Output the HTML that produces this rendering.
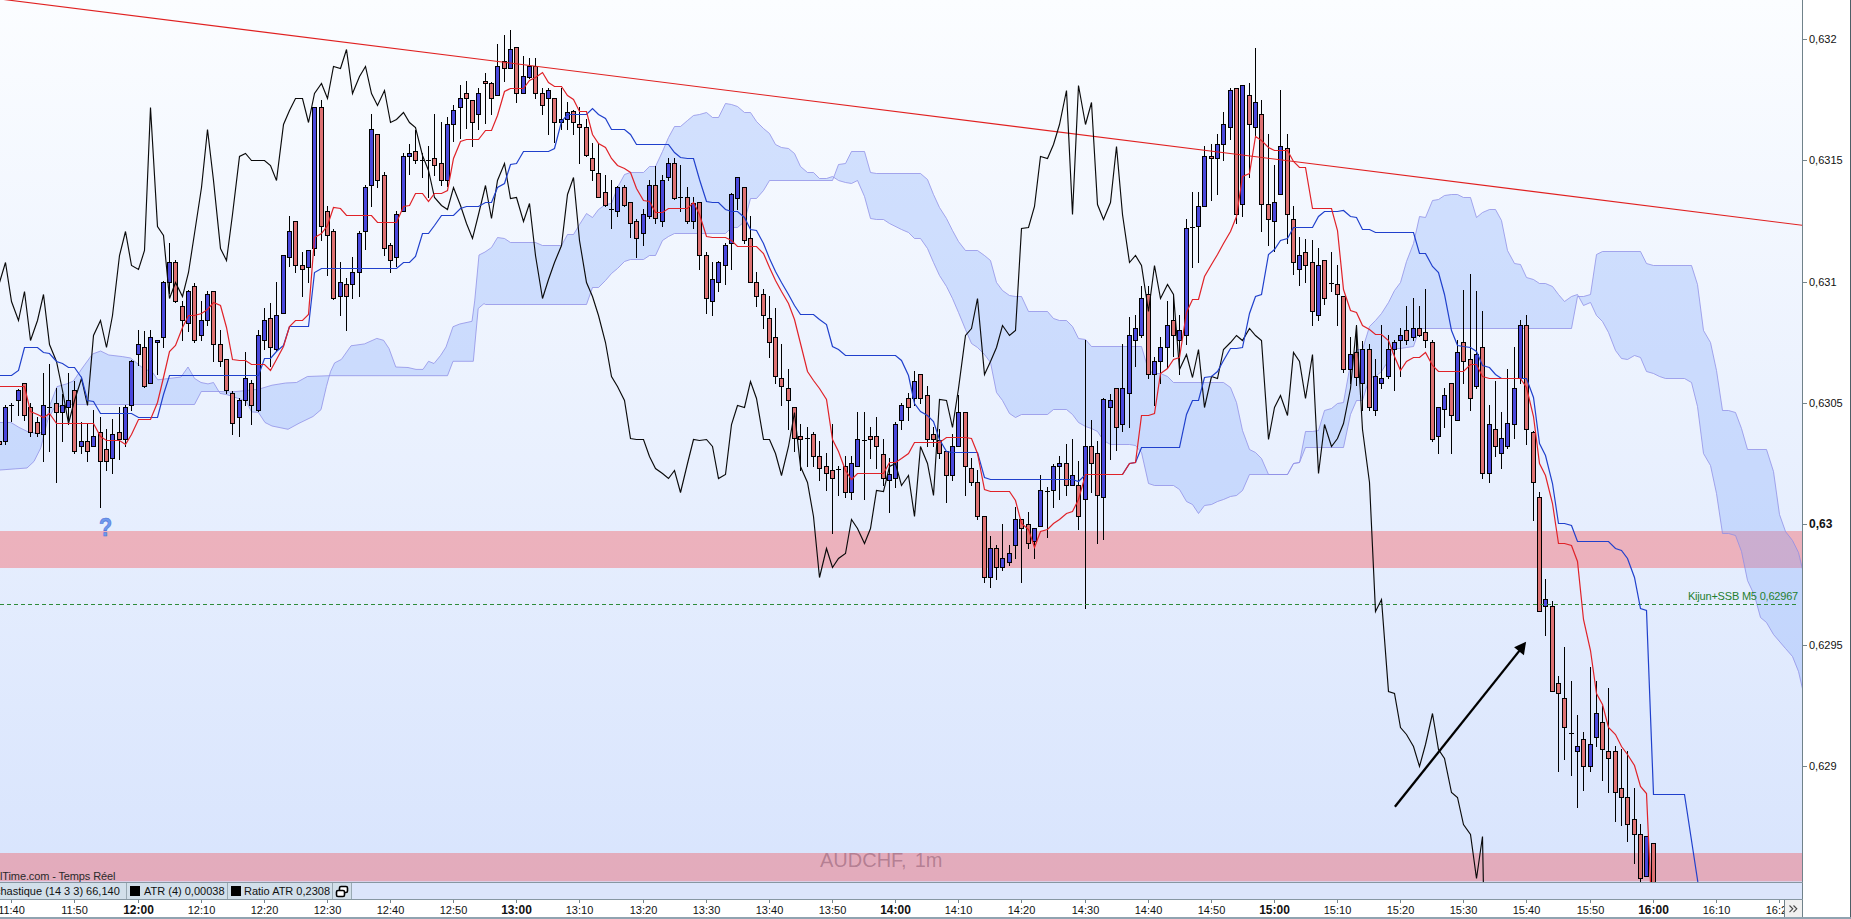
<!DOCTYPE html>
<html><head><meta charset="utf-8"><title>AUDCHF 1m</title>
<style>
html,body{margin:0;padding:0;background:#fff;}
body{width:1851px;height:919px;overflow:hidden;position:relative;font-family:"Liberation Sans",sans-serif;color:#111;}
#chart{position:absolute;left:0;top:0;width:1802px;height:883px;overflow:hidden;background:linear-gradient(to bottom,#fbfdff 0px,#d8e4fd 883px);}
#chart svg{position:absolute;left:0;top:0;}
#vax{position:absolute;left:1802px;top:0;width:1px;height:917px;background:#70828a;}
#rp{position:absolute;left:1803px;top:0;width:48px;height:919px;background:#fff;}
#redge{position:absolute;left:1850px;top:0;width:1px;height:919px;background:#4d5e66;}
.pt{position:absolute;left:1803px;width:4px;height:1px;background:#74858c;}
.pl{position:absolute;left:1809px;font-size:11px;line-height:14px;height:14px;white-space:nowrap;color:#111;}
.pl.b{font-weight:bold;font-size:12px;}
#hl1{position:absolute;left:0;top:882px;width:1803px;height:1px;background:#8797a2;}
#sb{position:absolute;left:0;top:883px;width:1802px;height:16px;background:#dce5fb;}
#hl2{position:absolute;left:0;top:899px;width:1803px;height:1px;background:#8797a2;}
.box{position:absolute;top:0;height:16px;background:#d2dfea;border-right:1px solid #9aaab4;font-size:11px;line-height:16px;white-space:nowrap;overflow:hidden;box-sizing:border-box;}
.sq{position:absolute;top:3px;width:10px;height:10px;background:#000;}
#ta{position:absolute;left:0;top:900px;width:1802px;height:17px;background:#fff;overflow:hidden;}
.tk{position:absolute;top:0;width:1px;height:3px;background:#74858c;}
.tl{position:absolute;top:3px;width:40px;text-align:center;font-size:11px;line-height:14px;white-space:nowrap;}
.tl.b{font-weight:bold;font-size:12px;top:3px;}
#bb{position:absolute;left:0;top:917px;width:1851px;height:2px;background:#90a3b0;}
#more{position:absolute;left:1784px;top:900px;width:18px;height:17px;background:#f0f0f0;border-left:1px solid #70828a;font-size:13px;line-height:15px;text-align:center;color:#444;box-sizing:border-box;}
#brand{position:absolute;left:0;top:870px;letter-spacing:-0.12px;font-size:11px;line-height:13px;color:#2a2a2a;white-space:nowrap;}
#wm{position:absolute;left:820px;top:848.5px;word-spacing:2.5px;font-size:20px;line-height:22px;color:rgba(64,15,45,0.3);white-space:nowrap;}
#q{position:absolute;left:99.2px;top:514px;font-size:25px;line-height:27px;font-weight:bold;color:#6f9aec;-webkit-text-stroke:0.6px #4a6ed8;transform:scaleX(0.86);transform-origin:0 0;}
#kl{position:absolute;left:1600px;width:1197px;top:590px;font-size:11px;line-height:12px;color:#1f7f2f;white-space:nowrap;}
</style></head><body>
<div id="chart">
<svg width="1803" height="883" viewBox="0 0 1803 883">
<rect x="0" y="531" width="1803" height="37" fill="rgb(252,40,41)" fill-opacity="0.3"/>
<rect x="0" y="853" width="1803" height="28" fill="rgb(252,40,41)" fill-opacity="0.3"/><rect x="0" y="881" width="1803" height="1" fill="rgb(252,40,41)" fill-opacity="0.1"/>
<polygon points="0.0,422.5 11.0,422.5 19.0,427.4 28.5,432.0 38.0,433.6 43.5,431.5 50.3,404.0 57.0,386.6 66.6,383.9 73.4,381.0 81.6,369.0 92.5,354.0 100.6,351.0 108.8,355.0 122.4,356.6 130.6,358.0 144.0,369.0 152.0,371.6 157.8,379.8 181.0,377.0 188.0,367.0 194.5,378.4 201.0,382.5 208.0,383.9 213.5,382.5 220.0,393.4 227.0,394.7 246.0,401.0 251.6,411.9 258.4,412.4 265.0,422.5 272.0,426.0 288.0,429.3 299.0,423.3 313.0,416.5 321.0,409.7 326.4,386.6 330.5,371.6 334.6,362.9 341.4,359.4 351.0,345.8 364.5,343.9 376.8,338.4 383.6,340.3 389.0,348.5 395.8,367.0 408.0,367.5 416.0,369.4 423.0,369.4 428.5,361.3 434.0,363.5 440.7,355.3 446.0,347.0 453.0,326.7 459.7,324.0 472.0,321.3 474.7,300.9 479.0,255.0 485.0,252.0 491.5,247.5 497.5,237.5 504.5,238.5 510.5,242.5 535.5,242.5 542.5,245.5 561.5,245.5 567.5,234.5 573.5,234.5 579.5,224.5 586.5,213.5 592.5,217.5 598.5,209.5 605.5,204.5 611.5,203.5 617.5,187.5 624.5,174.5 630.5,172.5 643.5,172.5 649.5,166.5 655.5,166.5 662.5,151.5 668.5,137.5 674.5,126.5 680.5,126.5 687.5,120.5 693.5,115.5 699.5,114.5 706.5,112.5 712.5,117.5 718.5,117.5 725.5,103.5 731.5,104.5 737.5,106.5 744.5,112.5 750.5,112.5 756.5,121.5 763.5,128.5 769.5,133.5 775.5,144.5 781.5,147.5 788.5,148.5 794.5,153.5 800.5,166.5 807.5,172.5 813.5,172.5 819.5,178.5 826.5,178.5 832.5,176.5 838.5,180.5 845.5,182.5 851.5,183.5 857.5,180.5 864.5,196.5 870.5,218.5 876.5,219.5 883.5,219.5 889.5,223.5 901.5,229.5 908.5,232.5 914.5,238.5 920.5,238.5 927.5,248.5 933.5,262.5 939.5,275.5 946.5,286.5 952.5,298.5 958.5,312.5 965.5,329.5 971.5,343.5 977.5,347.5 984.5,354.5 990.5,362.5 996.5,392.5 1002.5,400.5 1009.5,413.5 1015.5,417.5 1021.5,414.5 1047.5,414.5 1053.5,409.5 1066.5,409.5 1072.5,414.5 1078.5,422.5 1085.5,426.5 1091.5,428.5 1097.5,431.5 1103.5,440.5 1110.5,444.5 1129.5,444.5 1135.5,445.5 1141.5,452.5 1148.5,483.5 1154.5,485.5 1173.5,485.5 1179.5,489.5 1186.5,501.5 1192.5,504.5 1198.5,513.5 1204.5,505.5 1211.5,504.5 1217.5,501.5 1223.5,499.5 1230.5,496.5 1236.5,495.5 1242.5,490.5 1249.5,474.5 1287.5,474.5 1293.5,463.5 1299.5,462.5 1305.5,431.5 1312.5,431.5 1318.5,430.5 1324.5,410.5 1331.5,408.5 1337.5,403.5 1343.5,402.5 1350.5,363.5 1356.5,349.5 1362.5,349.5 1369.5,326.5 1375.5,320.5 1381.5,313.5 1388.5,302.5 1394.5,290.5 1400.5,282.5 1406.5,261.5 1413.5,243.5 1419.5,216.5 1425.5,217.5 1432.5,200.5 1438.5,199.5 1444.5,195.5 1451.5,194.5 1457.5,194.5 1463.5,197.5 1470.5,197.5 1476.5,217.5 1482.5,212.5 1489.5,209.5 1495.5,209.5 1501.5,220.5 1507.5,250.5 1514.5,263.5 1520.5,264.5 1526.5,277.5 1533.5,279.5 1539.5,283.5 1545.5,283.5 1552.5,286.5 1558.5,294.5 1564.5,301.5 1571.5,296.5 1577.5,294.5 1583.5,305.5 1590.5,302.5 1596.5,315.5 1602.5,321.5 1608.5,332.5 1615.5,350.5 1621.5,358.5 1627.5,359.5 1634.5,355.5 1640.5,357.5 1646.5,371.5 1653.5,373.5 1659.5,376.5 1665.5,378.5 1684.5,378.5 1691.5,382.5 1697.5,406.5 1703.5,453.5 1710.5,465.5 1716.5,493.5 1722.5,533.5 1728.5,533.5 1735.5,535.5 1741.5,551.5 1747.5,580.5 1754.5,595.5 1760.5,617.5 1766.5,622.5 1773.5,634.5 1785.5,648.5 1792.5,656.5 1798.5,671.5 1804.5,697.5 1811.5,702.5 1817.5,856.5 1817.5,731.5 1811.5,579.5 1804.5,577.5 1798.5,552.5 1792.5,540.5 1785.5,531.5 1779.5,514.5 1773.5,471.5 1766.5,449.5 1747.5,449.5 1741.5,428.5 1735.5,412.5 1728.5,410.5 1722.5,410.5 1716.5,370.5 1710.5,342.5 1703.5,330.5 1697.5,284.5 1691.5,265.5 1653.5,265.5 1646.5,263.5 1640.5,251.5 1602.5,251.5 1596.5,254.5 1590.5,294.5 1583.5,296.5 1577.5,296.5 1571.5,328.5 1419.5,328.5 1413.5,346.5 1406.5,347.5 1400.5,348.5 1394.5,348.5 1388.5,360.5 1381.5,371.5 1375.5,376.5 1369.5,377.5 1362.5,400.5 1356.5,400.5 1350.5,414.5 1343.5,447.5 1305.5,447.5 1299.5,462.5 1293.5,463.5 1287.5,474.5 1268.5,474.5 1261.5,458.5 1255.5,452.5 1249.5,449.5 1242.5,430.5 1236.5,402.5 1230.5,387.5 1223.5,382.5 1173.5,382.5 1167.5,376.5 1160.5,373.5 1154.5,373.5 1148.5,370.5 1141.5,346.5 1091.5,346.5 1085.5,339.5 1078.5,338.5 1072.5,326.5 1066.5,320.5 1059.5,320.5 1053.5,318.5 1047.5,311.5 1028.5,311.5 1021.5,296.5 1015.5,296.5 1009.5,295.5 1002.5,290.5 996.5,282.5 990.5,260.5 984.5,255.5 977.5,250.5 965.5,250.5 958.5,241.5 952.5,230.5 946.5,218.5 939.5,207.5 933.5,194.5 927.5,179.5 920.5,173.5 876.5,173.5 870.5,172.5 864.5,151.5 851.5,151.5 845.5,163.5 838.5,164.5 832.5,180.5 769.5,180.5 763.5,190.5 756.5,198.5 750.5,198.5 744.5,221.5 737.5,227.5 731.5,227.5 725.5,233.5 674.5,233.5 668.5,236.5 662.5,240.5 655.5,255.5 649.5,255.5 643.5,259.5 630.5,259.5 624.5,261.5 617.5,268.5 611.5,273.5 605.5,280.5 598.5,287.5 592.5,287.5 586.5,304.5 485.5,304.5 484.0,303.6 478.2,308.5 473.3,361.3 453.0,361.3 447.5,375.7 329.0,375.7 307.4,376.5 296.5,382.5 285.6,383.0 272.0,385.2 258.4,389.3 231.0,392.0 220.0,391.5 201.3,391.5 194.5,404.5 68.0,404.5 54.4,407.5 47.6,420.6 40.8,447.8 34.0,461.4 27.0,468.0 0.0,470.0" fill="rgb(125,164,253)" fill-opacity="0.3" stroke="none"/>
<polyline points="0.0,422.5 11.0,422.5 19.0,427.4 28.5,432.0 38.0,433.6 43.5,431.5 50.3,404.0 57.0,386.6 66.6,383.9 73.4,381.0 81.6,369.0 92.5,354.0 100.6,351.0 108.8,355.0 122.4,356.6 130.6,358.0 144.0,369.0 152.0,371.6 157.8,379.8 181.0,377.0 188.0,367.0 194.5,378.4 201.0,382.5 208.0,383.9 213.5,382.5 220.0,393.4 227.0,394.7 246.0,401.0 251.6,411.9 258.4,412.4 265.0,422.5 272.0,426.0 288.0,429.3 299.0,423.3 313.0,416.5 321.0,409.7 326.4,386.6 330.5,371.6 334.6,362.9 341.4,359.4 351.0,345.8 364.5,343.9 376.8,338.4 383.6,340.3 389.0,348.5 395.8,367.0 408.0,367.5 416.0,369.4 423.0,369.4 428.5,361.3 434.0,363.5 440.7,355.3 446.0,347.0 453.0,326.7 459.7,324.0 472.0,321.3 474.7,300.9 479.0,255.0 485.0,252.0 491.5,247.5 497.5,237.5 504.5,238.5 510.5,242.5 535.5,242.5 542.5,245.5 561.5,245.5 567.5,234.5 573.5,234.5 579.5,224.5 586.5,213.5 592.5,217.5 598.5,209.5 605.5,204.5 611.5,203.5 617.5,187.5 624.5,174.5 630.5,172.5 643.5,172.5 649.5,166.5 655.5,166.5 662.5,151.5 668.5,137.5 674.5,126.5 680.5,126.5 687.5,120.5 693.5,115.5 699.5,114.5 706.5,112.5 712.5,117.5 718.5,117.5 725.5,103.5 731.5,104.5 737.5,106.5 744.5,112.5 750.5,112.5 756.5,121.5 763.5,128.5 769.5,133.5 775.5,144.5 781.5,147.5 788.5,148.5 794.5,153.5 800.5,166.5 807.5,172.5 813.5,172.5 819.5,178.5 826.5,178.5 832.5,176.5 838.5,180.5 845.5,182.5 851.5,183.5 857.5,180.5 864.5,196.5 870.5,218.5 876.5,219.5 883.5,219.5 889.5,223.5 901.5,229.5 908.5,232.5 914.5,238.5 920.5,238.5 927.5,248.5 933.5,262.5 939.5,275.5 946.5,286.5 952.5,298.5 958.5,312.5 965.5,329.5 971.5,343.5 977.5,347.5 984.5,354.5 990.5,362.5 996.5,392.5 1002.5,400.5 1009.5,413.5 1015.5,417.5 1021.5,414.5 1047.5,414.5 1053.5,409.5 1066.5,409.5 1072.5,414.5 1078.5,422.5 1085.5,426.5 1091.5,428.5 1097.5,431.5 1103.5,440.5 1110.5,444.5 1129.5,444.5 1135.5,445.5 1141.5,452.5 1148.5,483.5 1154.5,485.5 1173.5,485.5 1179.5,489.5 1186.5,501.5 1192.5,504.5 1198.5,513.5 1204.5,505.5 1211.5,504.5 1217.5,501.5 1223.5,499.5 1230.5,496.5 1236.5,495.5 1242.5,490.5 1249.5,474.5 1287.5,474.5 1293.5,463.5 1299.5,462.5 1305.5,431.5 1312.5,431.5 1318.5,430.5 1324.5,410.5 1331.5,408.5 1337.5,403.5 1343.5,402.5 1350.5,363.5 1356.5,349.5 1362.5,349.5 1369.5,326.5 1375.5,320.5 1381.5,313.5 1388.5,302.5 1394.5,290.5 1400.5,282.5 1406.5,261.5 1413.5,243.5 1419.5,216.5 1425.5,217.5 1432.5,200.5 1438.5,199.5 1444.5,195.5 1451.5,194.5 1457.5,194.5 1463.5,197.5 1470.5,197.5 1476.5,217.5 1482.5,212.5 1489.5,209.5 1495.5,209.5 1501.5,220.5 1507.5,250.5 1514.5,263.5 1520.5,264.5 1526.5,277.5 1533.5,279.5 1539.5,283.5 1545.5,283.5 1552.5,286.5 1558.5,294.5 1564.5,301.5 1571.5,296.5 1577.5,294.5 1583.5,305.5 1590.5,302.5 1596.5,315.5 1602.5,321.5 1608.5,332.5 1615.5,350.5 1621.5,358.5 1627.5,359.5 1634.5,355.5 1640.5,357.5 1646.5,371.5 1653.5,373.5 1659.5,376.5 1665.5,378.5 1684.5,378.5 1691.5,382.5 1697.5,406.5 1703.5,453.5 1710.5,465.5 1716.5,493.5 1722.5,533.5 1728.5,533.5 1735.5,535.5 1741.5,551.5 1747.5,580.5 1754.5,595.5 1760.5,617.5 1766.5,622.5 1773.5,634.5 1785.5,648.5 1792.5,656.5 1798.5,671.5 1804.5,697.5 1811.5,702.5 1817.5,856.5" fill="none" stroke="#8c8ce6" stroke-opacity="0.75" stroke-width="1"/>
<polyline points="0.0,470.0 27.0,468.0 34.0,461.4 40.8,447.8 47.6,420.6 54.4,407.5 68.0,404.5 194.5,404.5 201.3,391.5 220.0,391.5 231.0,392.0 258.4,389.3 272.0,385.2 285.6,383.0 296.5,382.5 307.4,376.5 329.0,375.7 447.5,375.7 453.0,361.3 473.3,361.3 478.2,308.5 484.0,303.6 485.5,304.5 586.5,304.5 592.5,287.5 598.5,287.5 605.5,280.5 611.5,273.5 617.5,268.5 624.5,261.5 630.5,259.5 643.5,259.5 649.5,255.5 655.5,255.5 662.5,240.5 668.5,236.5 674.5,233.5 725.5,233.5 731.5,227.5 737.5,227.5 744.5,221.5 750.5,198.5 756.5,198.5 763.5,190.5 769.5,180.5 832.5,180.5 838.5,164.5 845.5,163.5 851.5,151.5 864.5,151.5 870.5,172.5 876.5,173.5 920.5,173.5 927.5,179.5 933.5,194.5 939.5,207.5 946.5,218.5 952.5,230.5 958.5,241.5 965.5,250.5 977.5,250.5 984.5,255.5 990.5,260.5 996.5,282.5 1002.5,290.5 1009.5,295.5 1015.5,296.5 1021.5,296.5 1028.5,311.5 1047.5,311.5 1053.5,318.5 1059.5,320.5 1066.5,320.5 1072.5,326.5 1078.5,338.5 1085.5,339.5 1091.5,346.5 1141.5,346.5 1148.5,370.5 1154.5,373.5 1160.5,373.5 1167.5,376.5 1173.5,382.5 1223.5,382.5 1230.5,387.5 1236.5,402.5 1242.5,430.5 1249.5,449.5 1255.5,452.5 1261.5,458.5 1268.5,474.5 1287.5,474.5 1293.5,463.5 1299.5,462.5 1305.5,447.5 1343.5,447.5 1350.5,414.5 1356.5,400.5 1362.5,400.5 1369.5,377.5 1375.5,376.5 1381.5,371.5 1388.5,360.5 1394.5,348.5 1400.5,348.5 1406.5,347.5 1413.5,346.5 1419.5,328.5 1571.5,328.5 1577.5,296.5 1583.5,296.5 1590.5,294.5 1596.5,254.5 1602.5,251.5 1640.5,251.5 1646.5,263.5 1653.5,265.5 1691.5,265.5 1697.5,284.5 1703.5,330.5 1710.5,342.5 1716.5,370.5 1722.5,410.5 1728.5,410.5 1735.5,412.5 1741.5,428.5 1747.5,449.5 1766.5,449.5 1773.5,471.5 1779.5,514.5 1785.5,531.5 1792.5,540.5 1798.5,552.5 1804.5,577.5 1811.5,579.5 1817.5,731.5" fill="none" stroke="#8c8ce6" stroke-opacity="0.75" stroke-width="1"/>
<g shape-rendering="crispEdges">
<rect x="-1" y="438" width="1" height="9" fill="#000"/>
<rect x="-3" y="441" width="5" height="4" fill="#000"/>
<rect x="-2" y="442" width="3" height="2" fill="#dd7172"/>
<rect x="5" y="405" width="1" height="40" fill="#000"/>
<rect x="3" y="407" width="5" height="35" fill="#000"/>
<rect x="4" y="408" width="3" height="33" fill="#4a48dc"/>
<rect x="11" y="403" width="1" height="19" fill="#000"/>
<rect x="9" y="405" width="5" height="1" fill="#000"/>
<rect x="18" y="389" width="1" height="27" fill="#000"/>
<rect x="16" y="390" width="5" height="11" fill="#000"/>
<rect x="17" y="391" width="3" height="9" fill="#4a48dc"/>
<rect x="24" y="383" width="1" height="38" fill="#000"/>
<rect x="22" y="383" width="5" height="33" fill="#000"/>
<rect x="23" y="384" width="3" height="31" fill="#dd7172"/>
<rect x="30" y="403" width="1" height="34" fill="#000"/>
<rect x="28" y="407" width="5" height="26" fill="#000"/>
<rect x="29" y="408" width="3" height="24" fill="#dd7172"/>
<rect x="37" y="417" width="1" height="20" fill="#000"/>
<rect x="35" y="422" width="5" height="12" fill="#000"/>
<rect x="36" y="423" width="3" height="10" fill="#dd7172"/>
<rect x="43" y="373" width="1" height="89" fill="#000"/>
<rect x="41" y="405" width="5" height="30" fill="#000"/>
<rect x="42" y="406" width="3" height="28" fill="#4a48dc"/>
<rect x="49" y="364" width="1" height="88" fill="#000"/>
<rect x="47" y="407" width="5" height="1" fill="#000"/>
<rect x="56" y="388" width="1" height="95" fill="#000"/>
<rect x="54" y="403" width="5" height="10" fill="#000"/>
<rect x="55" y="404" width="3" height="8" fill="#dd7172"/>
<rect x="62" y="394" width="1" height="48" fill="#000"/>
<rect x="60" y="405" width="5" height="8" fill="#000"/>
<rect x="61" y="406" width="3" height="6" fill="#4a48dc"/>
<rect x="68" y="373" width="1" height="52" fill="#000"/>
<rect x="66" y="400" width="5" height="8" fill="#000"/>
<rect x="67" y="401" width="3" height="6" fill="#4a48dc"/>
<rect x="74" y="381" width="1" height="73" fill="#000"/>
<rect x="72" y="390" width="5" height="62" fill="#000"/>
<rect x="73" y="391" width="3" height="60" fill="#dd7172"/>
<rect x="81" y="422" width="1" height="32" fill="#000"/>
<rect x="79" y="441" width="5" height="6" fill="#000"/>
<rect x="80" y="442" width="3" height="4" fill="#4a48dc"/>
<rect x="87" y="423" width="1" height="39" fill="#000"/>
<rect x="85" y="441" width="5" height="11" fill="#000"/>
<rect x="86" y="442" width="3" height="9" fill="#dd7172"/>
<rect x="93" y="410" width="1" height="37" fill="#000"/>
<rect x="91" y="436" width="5" height="11" fill="#000"/>
<rect x="92" y="437" width="3" height="9" fill="#4a48dc"/>
<rect x="100" y="417" width="1" height="91" fill="#000"/>
<rect x="98" y="432" width="5" height="30" fill="#000"/>
<rect x="99" y="433" width="3" height="28" fill="#dd7172"/>
<rect x="106" y="429" width="1" height="42" fill="#000"/>
<rect x="104" y="449" width="5" height="13" fill="#000"/>
<rect x="105" y="450" width="3" height="11" fill="#dd7172"/>
<rect x="112" y="419" width="1" height="55" fill="#000"/>
<rect x="110" y="434" width="5" height="25" fill="#000"/>
<rect x="111" y="435" width="3" height="23" fill="#4a48dc"/>
<rect x="119" y="407" width="1" height="53" fill="#000"/>
<rect x="117" y="432" width="5" height="8" fill="#000"/>
<rect x="118" y="433" width="3" height="6" fill="#dd7172"/>
<rect x="125" y="405" width="1" height="42" fill="#000"/>
<rect x="123" y="407" width="5" height="33" fill="#000"/>
<rect x="124" y="408" width="3" height="31" fill="#4a48dc"/>
<rect x="131" y="360" width="1" height="51" fill="#000"/>
<rect x="129" y="361" width="5" height="45" fill="#000"/>
<rect x="130" y="362" width="3" height="43" fill="#4a48dc"/>
<rect x="138" y="330" width="1" height="36" fill="#000"/>
<rect x="136" y="344" width="5" height="11" fill="#000"/>
<rect x="137" y="345" width="3" height="9" fill="#4a48dc"/>
<rect x="144" y="331" width="1" height="57" fill="#000"/>
<rect x="142" y="347" width="5" height="40" fill="#000"/>
<rect x="143" y="348" width="3" height="38" fill="#dd7172"/>
<rect x="150" y="330" width="1" height="54" fill="#000"/>
<rect x="148" y="337" width="5" height="47" fill="#000"/>
<rect x="149" y="338" width="3" height="45" fill="#4a48dc"/>
<rect x="157" y="340" width="1" height="35" fill="#000"/>
<rect x="155" y="340" width="5" height="3" fill="#000"/>
<rect x="156" y="341" width="3" height="1" fill="#4a48dc"/>
<rect x="163" y="281" width="1" height="67" fill="#000"/>
<rect x="161" y="282" width="5" height="56" fill="#000"/>
<rect x="162" y="283" width="3" height="54" fill="#4a48dc"/>
<rect x="169" y="243" width="1" height="51" fill="#000"/>
<rect x="167" y="262" width="5" height="21" fill="#000"/>
<rect x="168" y="263" width="3" height="19" fill="#4a48dc"/>
<rect x="175" y="260" width="1" height="43" fill="#000"/>
<rect x="173" y="262" width="5" height="40" fill="#000"/>
<rect x="174" y="263" width="3" height="38" fill="#dd7172"/>
<rect x="182" y="301" width="1" height="40" fill="#000"/>
<rect x="180" y="306" width="5" height="15" fill="#000"/>
<rect x="181" y="307" width="3" height="13" fill="#dd7172"/>
<rect x="188" y="290" width="1" height="42" fill="#000"/>
<rect x="186" y="291" width="5" height="33" fill="#000"/>
<rect x="187" y="292" width="3" height="31" fill="#4a48dc"/>
<rect x="194" y="283" width="1" height="60" fill="#000"/>
<rect x="192" y="286" width="5" height="55" fill="#000"/>
<rect x="193" y="287" width="3" height="53" fill="#dd7172"/>
<rect x="201" y="301" width="1" height="40" fill="#000"/>
<rect x="199" y="320" width="5" height="16" fill="#000"/>
<rect x="200" y="321" width="3" height="14" fill="#4a48dc"/>
<rect x="207" y="291" width="1" height="35" fill="#000"/>
<rect x="205" y="294" width="5" height="27" fill="#000"/>
<rect x="206" y="295" width="3" height="25" fill="#4a48dc"/>
<rect x="213" y="291" width="1" height="71" fill="#000"/>
<rect x="211" y="291" width="5" height="54" fill="#000"/>
<rect x="212" y="292" width="3" height="52" fill="#dd7172"/>
<rect x="220" y="330" width="1" height="37" fill="#000"/>
<rect x="218" y="344" width="5" height="18" fill="#000"/>
<rect x="219" y="345" width="3" height="16" fill="#dd7172"/>
<rect x="226" y="359" width="1" height="35" fill="#000"/>
<rect x="224" y="359" width="5" height="32" fill="#000"/>
<rect x="225" y="360" width="3" height="30" fill="#dd7172"/>
<rect x="232" y="391" width="1" height="44" fill="#000"/>
<rect x="230" y="393" width="5" height="31" fill="#000"/>
<rect x="231" y="394" width="3" height="29" fill="#dd7172"/>
<rect x="239" y="398" width="1" height="39" fill="#000"/>
<rect x="237" y="400" width="5" height="18" fill="#000"/>
<rect x="238" y="401" width="3" height="16" fill="#4a48dc"/>
<rect x="245" y="352" width="1" height="54" fill="#000"/>
<rect x="243" y="378" width="5" height="23" fill="#000"/>
<rect x="244" y="379" width="3" height="21" fill="#4a48dc"/>
<rect x="251" y="380" width="1" height="45" fill="#000"/>
<rect x="249" y="383" width="5" height="23" fill="#000"/>
<rect x="250" y="384" width="3" height="21" fill="#dd7172"/>
<rect x="258" y="330" width="1" height="82" fill="#000"/>
<rect x="256" y="335" width="5" height="76" fill="#000"/>
<rect x="257" y="336" width="3" height="74" fill="#4a48dc"/>
<rect x="264" y="308" width="1" height="42" fill="#000"/>
<rect x="262" y="320" width="5" height="21" fill="#000"/>
<rect x="263" y="321" width="3" height="19" fill="#4a48dc"/>
<rect x="270" y="303" width="1" height="64" fill="#000"/>
<rect x="268" y="318" width="5" height="30" fill="#000"/>
<rect x="269" y="319" width="3" height="28" fill="#dd7172"/>
<rect x="276" y="282" width="1" height="69" fill="#000"/>
<rect x="274" y="315" width="5" height="35" fill="#000"/>
<rect x="275" y="316" width="3" height="33" fill="#4a48dc"/>
<rect x="283" y="255" width="1" height="59" fill="#000"/>
<rect x="281" y="255" width="5" height="59" fill="#000"/>
<rect x="282" y="256" width="3" height="57" fill="#4a48dc"/>
<rect x="289" y="216" width="1" height="51" fill="#000"/>
<rect x="287" y="231" width="5" height="27" fill="#000"/>
<rect x="288" y="232" width="3" height="25" fill="#4a48dc"/>
<rect x="295" y="221" width="1" height="52" fill="#000"/>
<rect x="293" y="221" width="5" height="45" fill="#000"/>
<rect x="294" y="222" width="3" height="43" fill="#dd7172"/>
<rect x="302" y="252" width="1" height="45" fill="#000"/>
<rect x="300" y="265" width="5" height="5" fill="#000"/>
<rect x="301" y="266" width="3" height="3" fill="#dd7172"/>
<rect x="308" y="250" width="1" height="33" fill="#000"/>
<rect x="306" y="250" width="5" height="18" fill="#000"/>
<rect x="307" y="251" width="3" height="16" fill="#4a48dc"/>
<rect x="314" y="107" width="1" height="149" fill="#000"/>
<rect x="312" y="107" width="5" height="142" fill="#000"/>
<rect x="313" y="108" width="3" height="140" fill="#4a48dc"/>
<rect x="321" y="100" width="1" height="141" fill="#000"/>
<rect x="319" y="107" width="5" height="120" fill="#000"/>
<rect x="320" y="108" width="3" height="118" fill="#dd7172"/>
<rect x="327" y="206" width="1" height="70" fill="#000"/>
<rect x="325" y="211" width="5" height="25" fill="#000"/>
<rect x="326" y="212" width="3" height="23" fill="#dd7172"/>
<rect x="333" y="229" width="1" height="71" fill="#000"/>
<rect x="331" y="231" width="5" height="68" fill="#000"/>
<rect x="332" y="232" width="3" height="66" fill="#dd7172"/>
<rect x="340" y="262" width="1" height="54" fill="#000"/>
<rect x="338" y="282" width="5" height="15" fill="#000"/>
<rect x="339" y="283" width="3" height="13" fill="#4a48dc"/>
<rect x="346" y="278" width="1" height="53" fill="#000"/>
<rect x="344" y="284" width="5" height="13" fill="#000"/>
<rect x="345" y="285" width="3" height="11" fill="#dd7172"/>
<rect x="352" y="257" width="1" height="42" fill="#000"/>
<rect x="350" y="272" width="5" height="13" fill="#000"/>
<rect x="351" y="273" width="3" height="11" fill="#4a48dc"/>
<rect x="359" y="231" width="1" height="66" fill="#000"/>
<rect x="357" y="233" width="5" height="40" fill="#000"/>
<rect x="358" y="234" width="3" height="38" fill="#4a48dc"/>
<rect x="365" y="185" width="1" height="65" fill="#000"/>
<rect x="363" y="187" width="5" height="45" fill="#000"/>
<rect x="364" y="188" width="3" height="43" fill="#4a48dc"/>
<rect x="371" y="114" width="1" height="93" fill="#000"/>
<rect x="369" y="129" width="5" height="57" fill="#000"/>
<rect x="370" y="130" width="3" height="55" fill="#4a48dc"/>
<rect x="377" y="134" width="1" height="54" fill="#000"/>
<rect x="375" y="134" width="5" height="47" fill="#000"/>
<rect x="376" y="135" width="3" height="45" fill="#dd7172"/>
<rect x="384" y="172" width="1" height="84" fill="#000"/>
<rect x="382" y="175" width="5" height="74" fill="#000"/>
<rect x="383" y="176" width="3" height="72" fill="#dd7172"/>
<rect x="390" y="243" width="1" height="30" fill="#000"/>
<rect x="388" y="245" width="5" height="16" fill="#000"/>
<rect x="389" y="246" width="3" height="14" fill="#dd7172"/>
<rect x="396" y="211" width="1" height="56" fill="#000"/>
<rect x="394" y="214" width="5" height="44" fill="#000"/>
<rect x="395" y="215" width="3" height="42" fill="#4a48dc"/>
<rect x="403" y="153" width="1" height="59" fill="#000"/>
<rect x="401" y="156" width="5" height="56" fill="#000"/>
<rect x="402" y="157" width="3" height="54" fill="#4a48dc"/>
<rect x="409" y="144" width="1" height="31" fill="#000"/>
<rect x="407" y="153" width="5" height="4" fill="#000"/>
<rect x="408" y="154" width="3" height="2" fill="#4a48dc"/>
<rect x="415" y="130" width="1" height="34" fill="#000"/>
<rect x="413" y="151" width="5" height="10" fill="#000"/>
<rect x="414" y="152" width="3" height="8" fill="#dd7172"/>
<rect x="422" y="153" width="1" height="25" fill="#000"/>
<rect x="420" y="160" width="5" height="1" fill="#000"/>
<rect x="428" y="146" width="1" height="52" fill="#000"/>
<rect x="426" y="160" width="5" height="1" fill="#000"/>
<rect x="434" y="114" width="1" height="62" fill="#000"/>
<rect x="432" y="158" width="5" height="8" fill="#000"/>
<rect x="433" y="159" width="3" height="6" fill="#dd7172"/>
<rect x="441" y="122" width="1" height="64" fill="#000"/>
<rect x="439" y="163" width="5" height="18" fill="#000"/>
<rect x="440" y="164" width="3" height="16" fill="#dd7172"/>
<rect x="447" y="117" width="1" height="70" fill="#000"/>
<rect x="445" y="124" width="5" height="57" fill="#000"/>
<rect x="446" y="125" width="3" height="55" fill="#4a48dc"/>
<rect x="453" y="105" width="1" height="37" fill="#000"/>
<rect x="451" y="110" width="5" height="15" fill="#000"/>
<rect x="452" y="111" width="3" height="13" fill="#4a48dc"/>
<rect x="460" y="85" width="1" height="54" fill="#000"/>
<rect x="458" y="98" width="5" height="10" fill="#000"/>
<rect x="459" y="99" width="3" height="8" fill="#4a48dc"/>
<rect x="466" y="81" width="1" height="48" fill="#000"/>
<rect x="464" y="93" width="5" height="6" fill="#000"/>
<rect x="465" y="94" width="3" height="4" fill="#dd7172"/>
<rect x="472" y="100" width="1" height="47" fill="#000"/>
<rect x="470" y="100" width="5" height="23" fill="#000"/>
<rect x="471" y="101" width="3" height="21" fill="#dd7172"/>
<rect x="478" y="88" width="1" height="42" fill="#000"/>
<rect x="476" y="93" width="5" height="22" fill="#000"/>
<rect x="477" y="94" width="3" height="20" fill="#4a48dc"/>
<rect x="485" y="73" width="1" height="51" fill="#000"/>
<rect x="483" y="81" width="5" height="3" fill="#000"/>
<rect x="484" y="82" width="3" height="1" fill="#dd7172"/>
<rect x="491" y="82" width="1" height="33" fill="#000"/>
<rect x="489" y="83" width="5" height="16" fill="#000"/>
<rect x="490" y="84" width="3" height="14" fill="#dd7172"/>
<rect x="497" y="44" width="1" height="52" fill="#000"/>
<rect x="495" y="66" width="5" height="30" fill="#000"/>
<rect x="496" y="67" width="3" height="28" fill="#4a48dc"/>
<rect x="504" y="35" width="1" height="47" fill="#000"/>
<rect x="502" y="61" width="5" height="8" fill="#000"/>
<rect x="503" y="62" width="3" height="6" fill="#dd7172"/>
<rect x="510" y="30" width="1" height="39" fill="#000"/>
<rect x="508" y="49" width="5" height="20" fill="#000"/>
<rect x="509" y="50" width="3" height="18" fill="#4a48dc"/>
<rect x="516" y="47" width="1" height="56" fill="#000"/>
<rect x="514" y="47" width="5" height="47" fill="#000"/>
<rect x="515" y="48" width="3" height="45" fill="#dd7172"/>
<rect x="523" y="56" width="1" height="38" fill="#000"/>
<rect x="521" y="76" width="5" height="18" fill="#000"/>
<rect x="522" y="77" width="3" height="16" fill="#4a48dc"/>
<rect x="529" y="58" width="1" height="21" fill="#000"/>
<rect x="527" y="66" width="5" height="12" fill="#000"/>
<rect x="528" y="67" width="3" height="10" fill="#4a48dc"/>
<rect x="535" y="58" width="1" height="41" fill="#000"/>
<rect x="533" y="66" width="5" height="28" fill="#000"/>
<rect x="534" y="67" width="3" height="26" fill="#dd7172"/>
<rect x="542" y="88" width="1" height="27" fill="#000"/>
<rect x="540" y="93" width="5" height="13" fill="#000"/>
<rect x="541" y="94" width="3" height="11" fill="#dd7172"/>
<rect x="548" y="88" width="1" height="47" fill="#000"/>
<rect x="546" y="90" width="5" height="9" fill="#000"/>
<rect x="547" y="91" width="3" height="7" fill="#4a48dc"/>
<rect x="554" y="98" width="1" height="45" fill="#000"/>
<rect x="552" y="98" width="5" height="25" fill="#000"/>
<rect x="553" y="99" width="3" height="23" fill="#dd7172"/>
<rect x="561" y="88" width="1" height="42" fill="#000"/>
<rect x="559" y="119" width="5" height="4" fill="#000"/>
<rect x="560" y="120" width="3" height="2" fill="#4a48dc"/>
<rect x="567" y="102" width="1" height="28" fill="#000"/>
<rect x="565" y="112" width="5" height="8" fill="#000"/>
<rect x="566" y="113" width="3" height="6" fill="#4a48dc"/>
<rect x="573" y="110" width="1" height="25" fill="#000"/>
<rect x="571" y="111" width="5" height="12" fill="#000"/>
<rect x="572" y="112" width="3" height="10" fill="#dd7172"/>
<rect x="579" y="107" width="1" height="57" fill="#000"/>
<rect x="577" y="124" width="5" height="4" fill="#000"/>
<rect x="578" y="125" width="3" height="2" fill="#dd7172"/>
<rect x="586" y="119" width="1" height="38" fill="#000"/>
<rect x="584" y="127" width="5" height="29" fill="#000"/>
<rect x="585" y="128" width="3" height="27" fill="#dd7172"/>
<rect x="592" y="143" width="1" height="38" fill="#000"/>
<rect x="590" y="158" width="5" height="13" fill="#000"/>
<rect x="591" y="159" width="3" height="11" fill="#dd7172"/>
<rect x="598" y="144" width="1" height="54" fill="#000"/>
<rect x="596" y="173" width="5" height="25" fill="#000"/>
<rect x="597" y="174" width="3" height="23" fill="#dd7172"/>
<rect x="605" y="175" width="1" height="32" fill="#000"/>
<rect x="603" y="192" width="5" height="14" fill="#000"/>
<rect x="604" y="193" width="3" height="12" fill="#dd7172"/>
<rect x="611" y="180" width="1" height="49" fill="#000"/>
<rect x="609" y="209" width="5" height="1" fill="#000"/>
<rect x="617" y="186" width="1" height="31" fill="#000"/>
<rect x="615" y="187" width="5" height="25" fill="#000"/>
<rect x="616" y="188" width="3" height="23" fill="#4a48dc"/>
<rect x="624" y="185" width="1" height="22" fill="#000"/>
<rect x="622" y="187" width="5" height="19" fill="#000"/>
<rect x="623" y="188" width="3" height="17" fill="#dd7172"/>
<rect x="630" y="202" width="1" height="36" fill="#000"/>
<rect x="628" y="202" width="5" height="22" fill="#000"/>
<rect x="629" y="203" width="3" height="20" fill="#dd7172"/>
<rect x="636" y="219" width="1" height="39" fill="#000"/>
<rect x="634" y="221" width="5" height="18" fill="#000"/>
<rect x="635" y="222" width="3" height="16" fill="#dd7172"/>
<rect x="643" y="209" width="1" height="37" fill="#000"/>
<rect x="641" y="214" width="5" height="20" fill="#000"/>
<rect x="642" y="215" width="3" height="18" fill="#4a48dc"/>
<rect x="649" y="180" width="1" height="39" fill="#000"/>
<rect x="647" y="185" width="5" height="32" fill="#000"/>
<rect x="648" y="186" width="3" height="30" fill="#4a48dc"/>
<rect x="655" y="166" width="1" height="58" fill="#000"/>
<rect x="653" y="185" width="5" height="34" fill="#000"/>
<rect x="654" y="186" width="3" height="32" fill="#dd7172"/>
<rect x="662" y="175" width="1" height="52" fill="#000"/>
<rect x="660" y="180" width="5" height="42" fill="#000"/>
<rect x="661" y="181" width="3" height="40" fill="#4a48dc"/>
<rect x="668" y="158" width="1" height="23" fill="#000"/>
<rect x="666" y="163" width="5" height="15" fill="#000"/>
<rect x="667" y="164" width="3" height="13" fill="#4a48dc"/>
<rect x="674" y="158" width="1" height="42" fill="#000"/>
<rect x="672" y="163" width="5" height="36" fill="#000"/>
<rect x="673" y="164" width="3" height="34" fill="#dd7172"/>
<rect x="680" y="165" width="1" height="47" fill="#000"/>
<rect x="678" y="197" width="5" height="1" fill="#000"/>
<rect x="687" y="187" width="1" height="37" fill="#000"/>
<rect x="685" y="197" width="5" height="25" fill="#000"/>
<rect x="686" y="198" width="3" height="23" fill="#dd7172"/>
<rect x="693" y="197" width="1" height="32" fill="#000"/>
<rect x="691" y="203" width="5" height="19" fill="#000"/>
<rect x="692" y="204" width="3" height="17" fill="#4a48dc"/>
<rect x="699" y="202" width="1" height="68" fill="#000"/>
<rect x="697" y="202" width="5" height="54" fill="#000"/>
<rect x="698" y="203" width="3" height="52" fill="#dd7172"/>
<rect x="706" y="252" width="1" height="62" fill="#000"/>
<rect x="704" y="255" width="5" height="44" fill="#000"/>
<rect x="705" y="256" width="3" height="42" fill="#dd7172"/>
<rect x="712" y="262" width="1" height="54" fill="#000"/>
<rect x="710" y="279" width="5" height="23" fill="#000"/>
<rect x="711" y="280" width="3" height="21" fill="#4a48dc"/>
<rect x="718" y="261" width="1" height="31" fill="#000"/>
<rect x="716" y="262" width="5" height="21" fill="#000"/>
<rect x="717" y="263" width="3" height="19" fill="#4a48dc"/>
<rect x="725" y="243" width="1" height="42" fill="#000"/>
<rect x="723" y="245" width="5" height="21" fill="#000"/>
<rect x="724" y="246" width="3" height="19" fill="#4a48dc"/>
<rect x="731" y="193" width="1" height="77" fill="#000"/>
<rect x="729" y="194" width="5" height="50" fill="#000"/>
<rect x="730" y="195" width="3" height="48" fill="#4a48dc"/>
<rect x="737" y="177" width="1" height="33" fill="#000"/>
<rect x="735" y="177" width="5" height="22" fill="#000"/>
<rect x="736" y="178" width="3" height="20" fill="#4a48dc"/>
<rect x="744" y="187" width="1" height="57" fill="#000"/>
<rect x="742" y="187" width="5" height="54" fill="#000"/>
<rect x="743" y="188" width="3" height="52" fill="#dd7172"/>
<rect x="750" y="216" width="1" height="67" fill="#000"/>
<rect x="748" y="238" width="5" height="45" fill="#000"/>
<rect x="749" y="239" width="3" height="43" fill="#dd7172"/>
<rect x="756" y="272" width="1" height="35" fill="#000"/>
<rect x="754" y="282" width="5" height="15" fill="#000"/>
<rect x="755" y="283" width="3" height="13" fill="#dd7172"/>
<rect x="763" y="289" width="1" height="40" fill="#000"/>
<rect x="761" y="294" width="5" height="22" fill="#000"/>
<rect x="762" y="295" width="3" height="20" fill="#dd7172"/>
<rect x="769" y="296" width="1" height="62" fill="#000"/>
<rect x="767" y="318" width="5" height="25" fill="#000"/>
<rect x="768" y="319" width="3" height="23" fill="#dd7172"/>
<rect x="775" y="308" width="1" height="76" fill="#000"/>
<rect x="773" y="337" width="5" height="40" fill="#000"/>
<rect x="774" y="338" width="3" height="38" fill="#dd7172"/>
<rect x="781" y="344" width="1" height="62" fill="#000"/>
<rect x="779" y="378" width="5" height="9" fill="#000"/>
<rect x="780" y="379" width="3" height="7" fill="#dd7172"/>
<rect x="788" y="369" width="1" height="61" fill="#000"/>
<rect x="786" y="388" width="5" height="13" fill="#000"/>
<rect x="787" y="389" width="3" height="11" fill="#dd7172"/>
<rect x="794" y="407" width="1" height="45" fill="#000"/>
<rect x="792" y="407" width="5" height="32" fill="#000"/>
<rect x="793" y="408" width="3" height="30" fill="#dd7172"/>
<rect x="800" y="424" width="1" height="47" fill="#000"/>
<rect x="798" y="436" width="5" height="4" fill="#000"/>
<rect x="799" y="437" width="3" height="2" fill="#dd7172"/>
<rect x="807" y="427" width="1" height="40" fill="#000"/>
<rect x="805" y="438" width="5" height="1" fill="#000"/>
<rect x="813" y="432" width="1" height="35" fill="#000"/>
<rect x="811" y="434" width="5" height="23" fill="#000"/>
<rect x="812" y="435" width="3" height="21" fill="#dd7172"/>
<rect x="819" y="441" width="1" height="40" fill="#000"/>
<rect x="817" y="456" width="5" height="13" fill="#000"/>
<rect x="818" y="457" width="3" height="11" fill="#dd7172"/>
<rect x="826" y="453" width="1" height="38" fill="#000"/>
<rect x="824" y="466" width="5" height="8" fill="#000"/>
<rect x="825" y="467" width="3" height="6" fill="#dd7172"/>
<rect x="832" y="424" width="1" height="110" fill="#000"/>
<rect x="830" y="470" width="5" height="9" fill="#000"/>
<rect x="831" y="471" width="3" height="7" fill="#dd7172"/>
<rect x="838" y="466" width="1" height="30" fill="#000"/>
<rect x="836" y="469" width="5" height="1" fill="#000"/>
<rect x="845" y="456" width="1" height="42" fill="#000"/>
<rect x="843" y="466" width="5" height="27" fill="#000"/>
<rect x="844" y="467" width="3" height="25" fill="#dd7172"/>
<rect x="851" y="456" width="1" height="44" fill="#000"/>
<rect x="849" y="463" width="5" height="30" fill="#000"/>
<rect x="850" y="464" width="3" height="28" fill="#4a48dc"/>
<rect x="857" y="412" width="1" height="55" fill="#000"/>
<rect x="855" y="439" width="5" height="28" fill="#000"/>
<rect x="856" y="440" width="3" height="26" fill="#4a48dc"/>
<rect x="864" y="412" width="1" height="88" fill="#000"/>
<rect x="862" y="440" width="5" height="1" fill="#000"/>
<rect x="870" y="427" width="1" height="32" fill="#000"/>
<rect x="868" y="436" width="5" height="4" fill="#000"/>
<rect x="869" y="437" width="3" height="2" fill="#dd7172"/>
<rect x="876" y="417" width="1" height="52" fill="#000"/>
<rect x="874" y="436" width="5" height="11" fill="#000"/>
<rect x="875" y="437" width="3" height="9" fill="#dd7172"/>
<rect x="883" y="439" width="1" height="47" fill="#000"/>
<rect x="881" y="454" width="5" height="25" fill="#000"/>
<rect x="882" y="455" width="3" height="23" fill="#dd7172"/>
<rect x="889" y="458" width="1" height="55" fill="#000"/>
<rect x="887" y="474" width="5" height="7" fill="#000"/>
<rect x="888" y="475" width="3" height="5" fill="#4a48dc"/>
<rect x="895" y="422" width="1" height="66" fill="#000"/>
<rect x="893" y="424" width="5" height="55" fill="#000"/>
<rect x="894" y="425" width="3" height="53" fill="#4a48dc"/>
<rect x="901" y="403" width="1" height="27" fill="#000"/>
<rect x="899" y="405" width="5" height="16" fill="#000"/>
<rect x="900" y="406" width="3" height="14" fill="#4a48dc"/>
<rect x="908" y="393" width="1" height="28" fill="#000"/>
<rect x="906" y="398" width="5" height="10" fill="#000"/>
<rect x="907" y="399" width="3" height="8" fill="#dd7172"/>
<rect x="914" y="371" width="1" height="35" fill="#000"/>
<rect x="912" y="381" width="5" height="18" fill="#000"/>
<rect x="913" y="382" width="3" height="16" fill="#4a48dc"/>
<rect x="920" y="374" width="1" height="30" fill="#000"/>
<rect x="918" y="374" width="5" height="25" fill="#000"/>
<rect x="919" y="375" width="3" height="23" fill="#dd7172"/>
<rect x="927" y="386" width="1" height="61" fill="#000"/>
<rect x="925" y="395" width="5" height="45" fill="#000"/>
<rect x="926" y="396" width="3" height="43" fill="#dd7172"/>
<rect x="933" y="427" width="1" height="20" fill="#000"/>
<rect x="931" y="434" width="5" height="6" fill="#000"/>
<rect x="932" y="435" width="3" height="4" fill="#dd7172"/>
<rect x="939" y="429" width="1" height="30" fill="#000"/>
<rect x="937" y="440" width="5" height="14" fill="#000"/>
<rect x="938" y="441" width="3" height="12" fill="#dd7172"/>
<rect x="946" y="451" width="1" height="52" fill="#000"/>
<rect x="944" y="451" width="5" height="25" fill="#000"/>
<rect x="945" y="452" width="3" height="23" fill="#dd7172"/>
<rect x="952" y="434" width="1" height="47" fill="#000"/>
<rect x="950" y="446" width="5" height="30" fill="#000"/>
<rect x="951" y="447" width="3" height="28" fill="#4a48dc"/>
<rect x="958" y="395" width="1" height="52" fill="#000"/>
<rect x="956" y="412" width="5" height="35" fill="#000"/>
<rect x="957" y="413" width="3" height="33" fill="#4a48dc"/>
<rect x="965" y="412" width="1" height="84" fill="#000"/>
<rect x="963" y="412" width="5" height="55" fill="#000"/>
<rect x="964" y="413" width="3" height="53" fill="#dd7172"/>
<rect x="971" y="458" width="1" height="28" fill="#000"/>
<rect x="969" y="468" width="5" height="15" fill="#000"/>
<rect x="970" y="469" width="3" height="13" fill="#dd7172"/>
<rect x="977" y="470" width="1" height="50" fill="#000"/>
<rect x="975" y="482" width="5" height="35" fill="#000"/>
<rect x="976" y="483" width="3" height="33" fill="#dd7172"/>
<rect x="984" y="516" width="1" height="67" fill="#000"/>
<rect x="982" y="516" width="5" height="62" fill="#000"/>
<rect x="983" y="517" width="3" height="60" fill="#dd7172"/>
<rect x="990" y="536" width="1" height="52" fill="#000"/>
<rect x="988" y="548" width="5" height="30" fill="#000"/>
<rect x="989" y="549" width="3" height="28" fill="#4a48dc"/>
<rect x="996" y="545" width="1" height="35" fill="#000"/>
<rect x="994" y="548" width="5" height="20" fill="#000"/>
<rect x="995" y="549" width="3" height="18" fill="#dd7172"/>
<rect x="1002" y="524" width="1" height="47" fill="#000"/>
<rect x="1000" y="558" width="5" height="10" fill="#000"/>
<rect x="1001" y="559" width="3" height="8" fill="#4a48dc"/>
<rect x="1009" y="545" width="1" height="21" fill="#000"/>
<rect x="1007" y="553" width="5" height="10" fill="#000"/>
<rect x="1008" y="554" width="3" height="8" fill="#4a48dc"/>
<rect x="1015" y="507" width="1" height="52" fill="#000"/>
<rect x="1013" y="519" width="5" height="27" fill="#000"/>
<rect x="1014" y="520" width="3" height="25" fill="#4a48dc"/>
<rect x="1021" y="519" width="1" height="64" fill="#000"/>
<rect x="1019" y="519" width="5" height="10" fill="#000"/>
<rect x="1020" y="520" width="3" height="8" fill="#dd7172"/>
<rect x="1028" y="512" width="1" height="37" fill="#000"/>
<rect x="1026" y="524" width="5" height="20" fill="#000"/>
<rect x="1027" y="525" width="3" height="18" fill="#dd7172"/>
<rect x="1034" y="528" width="1" height="31" fill="#000"/>
<rect x="1032" y="528" width="5" height="14" fill="#000"/>
<rect x="1033" y="529" width="3" height="12" fill="#4a48dc"/>
<rect x="1040" y="475" width="1" height="52" fill="#000"/>
<rect x="1038" y="490" width="5" height="37" fill="#000"/>
<rect x="1039" y="491" width="3" height="35" fill="#4a48dc"/>
<rect x="1047" y="487" width="1" height="51" fill="#000"/>
<rect x="1045" y="491" width="5" height="1" fill="#000"/>
<rect x="1053" y="464" width="1" height="44" fill="#000"/>
<rect x="1051" y="466" width="5" height="25" fill="#000"/>
<rect x="1052" y="467" width="3" height="23" fill="#4a48dc"/>
<rect x="1059" y="456" width="1" height="44" fill="#000"/>
<rect x="1057" y="463" width="5" height="4" fill="#000"/>
<rect x="1058" y="464" width="3" height="2" fill="#4a48dc"/>
<rect x="1066" y="444" width="1" height="52" fill="#000"/>
<rect x="1064" y="463" width="5" height="23" fill="#000"/>
<rect x="1065" y="464" width="3" height="21" fill="#dd7172"/>
<rect x="1072" y="439" width="1" height="47" fill="#000"/>
<rect x="1070" y="475" width="5" height="11" fill="#000"/>
<rect x="1071" y="476" width="3" height="9" fill="#4a48dc"/>
<rect x="1078" y="461" width="1" height="69" fill="#000"/>
<rect x="1076" y="485" width="5" height="32" fill="#000"/>
<rect x="1077" y="486" width="3" height="30" fill="#dd7172"/>
<rect x="1085" y="340" width="1" height="269" fill="#000"/>
<rect x="1083" y="446" width="5" height="54" fill="#000"/>
<rect x="1084" y="447" width="3" height="52" fill="#4a48dc"/>
<rect x="1091" y="420" width="1" height="73" fill="#000"/>
<rect x="1089" y="446" width="5" height="18" fill="#000"/>
<rect x="1090" y="447" width="3" height="16" fill="#dd7172"/>
<rect x="1097" y="441" width="1" height="103" fill="#000"/>
<rect x="1095" y="453" width="5" height="43" fill="#000"/>
<rect x="1096" y="454" width="3" height="41" fill="#dd7172"/>
<rect x="1103" y="398" width="1" height="142" fill="#000"/>
<rect x="1101" y="399" width="5" height="99" fill="#000"/>
<rect x="1102" y="400" width="3" height="97" fill="#4a48dc"/>
<rect x="1110" y="394" width="1" height="66" fill="#000"/>
<rect x="1108" y="400" width="5" height="8" fill="#000"/>
<rect x="1109" y="401" width="3" height="6" fill="#4a48dc"/>
<rect x="1116" y="388" width="1" height="63" fill="#000"/>
<rect x="1114" y="388" width="5" height="40" fill="#000"/>
<rect x="1115" y="389" width="3" height="38" fill="#dd7172"/>
<rect x="1122" y="344" width="1" height="88" fill="#000"/>
<rect x="1120" y="388" width="5" height="37" fill="#000"/>
<rect x="1121" y="389" width="3" height="35" fill="#4a48dc"/>
<rect x="1129" y="317" width="1" height="111" fill="#000"/>
<rect x="1127" y="335" width="5" height="59" fill="#000"/>
<rect x="1128" y="336" width="3" height="57" fill="#4a48dc"/>
<rect x="1135" y="315" width="1" height="52" fill="#000"/>
<rect x="1133" y="328" width="5" height="13" fill="#000"/>
<rect x="1134" y="329" width="3" height="11" fill="#4a48dc"/>
<rect x="1141" y="286" width="1" height="52" fill="#000"/>
<rect x="1139" y="298" width="5" height="38" fill="#000"/>
<rect x="1140" y="299" width="3" height="36" fill="#4a48dc"/>
<rect x="1148" y="286" width="1" height="93" fill="#000"/>
<rect x="1146" y="294" width="5" height="81" fill="#000"/>
<rect x="1147" y="295" width="3" height="79" fill="#dd7172"/>
<rect x="1154" y="357" width="1" height="49" fill="#000"/>
<rect x="1152" y="361" width="5" height="14" fill="#000"/>
<rect x="1153" y="362" width="3" height="12" fill="#4a48dc"/>
<rect x="1160" y="337" width="1" height="47" fill="#000"/>
<rect x="1158" y="347" width="5" height="15" fill="#000"/>
<rect x="1159" y="348" width="3" height="13" fill="#4a48dc"/>
<rect x="1167" y="301" width="1" height="67" fill="#000"/>
<rect x="1165" y="325" width="5" height="23" fill="#000"/>
<rect x="1166" y="326" width="3" height="21" fill="#4a48dc"/>
<rect x="1173" y="294" width="1" height="63" fill="#000"/>
<rect x="1171" y="320" width="5" height="16" fill="#000"/>
<rect x="1172" y="321" width="3" height="14" fill="#dd7172"/>
<rect x="1179" y="315" width="1" height="60" fill="#000"/>
<rect x="1177" y="330" width="5" height="11" fill="#000"/>
<rect x="1178" y="331" width="3" height="9" fill="#4a48dc"/>
<rect x="1186" y="219" width="1" height="126" fill="#000"/>
<rect x="1184" y="228" width="5" height="108" fill="#000"/>
<rect x="1185" y="229" width="3" height="106" fill="#4a48dc"/>
<rect x="1192" y="192" width="1" height="76" fill="#000"/>
<rect x="1190" y="227" width="5" height="1" fill="#000"/>
<rect x="1198" y="192" width="1" height="71" fill="#000"/>
<rect x="1196" y="206" width="5" height="21" fill="#000"/>
<rect x="1197" y="207" width="3" height="19" fill="#4a48dc"/>
<rect x="1204" y="146" width="1" height="61" fill="#000"/>
<rect x="1202" y="156" width="5" height="51" fill="#000"/>
<rect x="1203" y="157" width="3" height="49" fill="#4a48dc"/>
<rect x="1211" y="144" width="1" height="57" fill="#000"/>
<rect x="1209" y="156" width="5" height="3" fill="#000"/>
<rect x="1210" y="157" width="3" height="1" fill="#dd7172"/>
<rect x="1217" y="134" width="1" height="61" fill="#000"/>
<rect x="1215" y="144" width="5" height="15" fill="#000"/>
<rect x="1216" y="145" width="3" height="13" fill="#4a48dc"/>
<rect x="1223" y="112" width="1" height="49" fill="#000"/>
<rect x="1221" y="124" width="5" height="21" fill="#000"/>
<rect x="1222" y="125" width="3" height="19" fill="#4a48dc"/>
<rect x="1230" y="88" width="1" height="52" fill="#000"/>
<rect x="1228" y="90" width="5" height="38" fill="#000"/>
<rect x="1229" y="91" width="3" height="36" fill="#4a48dc"/>
<rect x="1236" y="88" width="1" height="136" fill="#000"/>
<rect x="1234" y="88" width="5" height="127" fill="#000"/>
<rect x="1235" y="89" width="3" height="125" fill="#dd7172"/>
<rect x="1242" y="85" width="1" height="132" fill="#000"/>
<rect x="1240" y="85" width="5" height="120" fill="#000"/>
<rect x="1241" y="86" width="3" height="118" fill="#4a48dc"/>
<rect x="1249" y="83" width="1" height="95" fill="#000"/>
<rect x="1247" y="95" width="5" height="30" fill="#000"/>
<rect x="1248" y="96" width="3" height="28" fill="#dd7172"/>
<rect x="1255" y="48" width="1" height="88" fill="#000"/>
<rect x="1253" y="102" width="5" height="26" fill="#000"/>
<rect x="1254" y="103" width="3" height="24" fill="#4a48dc"/>
<rect x="1261" y="100" width="1" height="132" fill="#000"/>
<rect x="1259" y="114" width="5" height="91" fill="#000"/>
<rect x="1260" y="115" width="3" height="89" fill="#dd7172"/>
<rect x="1268" y="134" width="1" height="112" fill="#000"/>
<rect x="1266" y="204" width="5" height="16" fill="#000"/>
<rect x="1267" y="205" width="3" height="14" fill="#dd7172"/>
<rect x="1274" y="165" width="1" height="87" fill="#000"/>
<rect x="1272" y="202" width="5" height="20" fill="#000"/>
<rect x="1273" y="203" width="3" height="18" fill="#4a48dc"/>
<rect x="1280" y="90" width="1" height="105" fill="#000"/>
<rect x="1278" y="146" width="5" height="49" fill="#000"/>
<rect x="1279" y="147" width="3" height="47" fill="#4a48dc"/>
<rect x="1287" y="134" width="1" height="110" fill="#000"/>
<rect x="1285" y="148" width="5" height="67" fill="#000"/>
<rect x="1286" y="149" width="3" height="65" fill="#dd7172"/>
<rect x="1293" y="206" width="1" height="69" fill="#000"/>
<rect x="1291" y="219" width="5" height="44" fill="#000"/>
<rect x="1292" y="220" width="3" height="42" fill="#dd7172"/>
<rect x="1299" y="237" width="1" height="49" fill="#000"/>
<rect x="1297" y="255" width="5" height="15" fill="#000"/>
<rect x="1298" y="256" width="3" height="13" fill="#4a48dc"/>
<rect x="1305" y="239" width="1" height="44" fill="#000"/>
<rect x="1303" y="252" width="5" height="14" fill="#000"/>
<rect x="1304" y="253" width="3" height="12" fill="#dd7172"/>
<rect x="1312" y="240" width="1" height="86" fill="#000"/>
<rect x="1310" y="262" width="5" height="50" fill="#000"/>
<rect x="1311" y="263" width="3" height="48" fill="#dd7172"/>
<rect x="1318" y="248" width="1" height="73" fill="#000"/>
<rect x="1316" y="265" width="5" height="51" fill="#000"/>
<rect x="1317" y="266" width="3" height="49" fill="#4a48dc"/>
<rect x="1324" y="260" width="1" height="45" fill="#000"/>
<rect x="1322" y="260" width="5" height="39" fill="#000"/>
<rect x="1323" y="261" width="3" height="37" fill="#dd7172"/>
<rect x="1331" y="252" width="1" height="40" fill="#000"/>
<rect x="1329" y="283" width="5" height="1" fill="#000"/>
<rect x="1337" y="265" width="1" height="61" fill="#000"/>
<rect x="1335" y="284" width="5" height="11" fill="#000"/>
<rect x="1336" y="285" width="3" height="9" fill="#dd7172"/>
<rect x="1343" y="296" width="1" height="77" fill="#000"/>
<rect x="1341" y="296" width="5" height="74" fill="#000"/>
<rect x="1342" y="297" width="3" height="72" fill="#dd7172"/>
<rect x="1350" y="337" width="1" height="47" fill="#000"/>
<rect x="1348" y="354" width="5" height="16" fill="#000"/>
<rect x="1349" y="355" width="3" height="14" fill="#4a48dc"/>
<rect x="1356" y="325" width="1" height="61" fill="#000"/>
<rect x="1354" y="352" width="5" height="26" fill="#000"/>
<rect x="1355" y="353" width="3" height="24" fill="#dd7172"/>
<rect x="1362" y="341" width="1" height="70" fill="#000"/>
<rect x="1360" y="349" width="5" height="35" fill="#000"/>
<rect x="1361" y="350" width="3" height="33" fill="#4a48dc"/>
<rect x="1369" y="344" width="1" height="67" fill="#000"/>
<rect x="1367" y="349" width="5" height="59" fill="#000"/>
<rect x="1368" y="350" width="3" height="57" fill="#dd7172"/>
<rect x="1375" y="359" width="1" height="57" fill="#000"/>
<rect x="1373" y="376" width="5" height="35" fill="#000"/>
<rect x="1374" y="377" width="3" height="33" fill="#4a48dc"/>
<rect x="1381" y="325" width="1" height="64" fill="#000"/>
<rect x="1379" y="378" width="5" height="6" fill="#000"/>
<rect x="1380" y="379" width="3" height="4" fill="#4a48dc"/>
<rect x="1388" y="335" width="1" height="44" fill="#000"/>
<rect x="1386" y="349" width="5" height="28" fill="#000"/>
<rect x="1387" y="350" width="3" height="26" fill="#4a48dc"/>
<rect x="1394" y="340" width="1" height="51" fill="#000"/>
<rect x="1392" y="342" width="5" height="8" fill="#000"/>
<rect x="1393" y="343" width="3" height="6" fill="#4a48dc"/>
<rect x="1400" y="328" width="1" height="49" fill="#000"/>
<rect x="1398" y="335" width="5" height="6" fill="#000"/>
<rect x="1399" y="336" width="3" height="4" fill="#4a48dc"/>
<rect x="1406" y="306" width="1" height="39" fill="#000"/>
<rect x="1404" y="330" width="5" height="11" fill="#000"/>
<rect x="1405" y="331" width="3" height="9" fill="#dd7172"/>
<rect x="1413" y="298" width="1" height="43" fill="#000"/>
<rect x="1411" y="328" width="5" height="10" fill="#000"/>
<rect x="1412" y="329" width="3" height="8" fill="#4a48dc"/>
<rect x="1419" y="306" width="1" height="31" fill="#000"/>
<rect x="1417" y="328" width="5" height="8" fill="#000"/>
<rect x="1418" y="329" width="3" height="6" fill="#dd7172"/>
<rect x="1425" y="289" width="1" height="59" fill="#000"/>
<rect x="1423" y="332" width="5" height="9" fill="#000"/>
<rect x="1424" y="333" width="3" height="7" fill="#dd7172"/>
<rect x="1432" y="340" width="1" height="102" fill="#000"/>
<rect x="1430" y="342" width="5" height="98" fill="#000"/>
<rect x="1431" y="343" width="3" height="96" fill="#dd7172"/>
<rect x="1438" y="407" width="1" height="47" fill="#000"/>
<rect x="1436" y="407" width="5" height="30" fill="#000"/>
<rect x="1437" y="408" width="3" height="28" fill="#4a48dc"/>
<rect x="1444" y="388" width="1" height="40" fill="#000"/>
<rect x="1442" y="395" width="5" height="15" fill="#000"/>
<rect x="1443" y="396" width="3" height="13" fill="#4a48dc"/>
<rect x="1451" y="383" width="1" height="71" fill="#000"/>
<rect x="1449" y="383" width="5" height="33" fill="#000"/>
<rect x="1450" y="384" width="3" height="31" fill="#dd7172"/>
<rect x="1457" y="340" width="1" height="81" fill="#000"/>
<rect x="1455" y="352" width="5" height="69" fill="#000"/>
<rect x="1456" y="353" width="3" height="67" fill="#4a48dc"/>
<rect x="1463" y="290" width="1" height="94" fill="#000"/>
<rect x="1461" y="342" width="5" height="20" fill="#000"/>
<rect x="1462" y="343" width="3" height="18" fill="#dd7172"/>
<rect x="1470" y="274" width="1" height="137" fill="#000"/>
<rect x="1468" y="359" width="5" height="40" fill="#000"/>
<rect x="1469" y="360" width="3" height="38" fill="#dd7172"/>
<rect x="1476" y="291" width="1" height="98" fill="#000"/>
<rect x="1474" y="354" width="5" height="33" fill="#000"/>
<rect x="1475" y="355" width="3" height="31" fill="#4a48dc"/>
<rect x="1482" y="311" width="1" height="168" fill="#000"/>
<rect x="1480" y="347" width="5" height="127" fill="#000"/>
<rect x="1481" y="348" width="3" height="125" fill="#dd7172"/>
<rect x="1489" y="405" width="1" height="78" fill="#000"/>
<rect x="1487" y="424" width="5" height="50" fill="#000"/>
<rect x="1488" y="425" width="3" height="48" fill="#4a48dc"/>
<rect x="1495" y="381" width="1" height="76" fill="#000"/>
<rect x="1493" y="429" width="5" height="18" fill="#000"/>
<rect x="1494" y="430" width="3" height="16" fill="#dd7172"/>
<rect x="1501" y="412" width="1" height="57" fill="#000"/>
<rect x="1499" y="438" width="5" height="16" fill="#000"/>
<rect x="1500" y="439" width="3" height="14" fill="#4a48dc"/>
<rect x="1507" y="369" width="1" height="80" fill="#000"/>
<rect x="1505" y="423" width="5" height="24" fill="#000"/>
<rect x="1506" y="424" width="3" height="22" fill="#4a48dc"/>
<rect x="1514" y="347" width="1" height="92" fill="#000"/>
<rect x="1512" y="388" width="5" height="37" fill="#000"/>
<rect x="1513" y="389" width="3" height="35" fill="#4a48dc"/>
<rect x="1520" y="320" width="1" height="64" fill="#000"/>
<rect x="1518" y="325" width="5" height="54" fill="#000"/>
<rect x="1519" y="326" width="3" height="52" fill="#4a48dc"/>
<rect x="1526" y="315" width="1" height="130" fill="#000"/>
<rect x="1524" y="325" width="5" height="105" fill="#000"/>
<rect x="1525" y="326" width="3" height="103" fill="#dd7172"/>
<rect x="1533" y="431" width="1" height="90" fill="#000"/>
<rect x="1531" y="432" width="5" height="51" fill="#000"/>
<rect x="1532" y="433" width="3" height="49" fill="#dd7172"/>
<rect x="1539" y="492" width="1" height="120" fill="#000"/>
<rect x="1537" y="497" width="5" height="115" fill="#000"/>
<rect x="1538" y="498" width="3" height="113" fill="#dd7172"/>
<rect x="1545" y="579" width="1" height="57" fill="#000"/>
<rect x="1543" y="599" width="5" height="8" fill="#000"/>
<rect x="1544" y="600" width="3" height="6" fill="#4a48dc"/>
<rect x="1552" y="601" width="1" height="91" fill="#000"/>
<rect x="1550" y="606" width="5" height="86" fill="#000"/>
<rect x="1551" y="607" width="3" height="84" fill="#dd7172"/>
<rect x="1558" y="676" width="1" height="96" fill="#000"/>
<rect x="1556" y="683" width="5" height="11" fill="#000"/>
<rect x="1557" y="684" width="3" height="9" fill="#dd7172"/>
<rect x="1564" y="647" width="1" height="113" fill="#000"/>
<rect x="1562" y="698" width="5" height="30" fill="#000"/>
<rect x="1563" y="699" width="3" height="28" fill="#dd7172"/>
<rect x="1571" y="681" width="1" height="95" fill="#000"/>
<rect x="1569" y="733" width="5" height="1" fill="#000"/>
<rect x="1577" y="715" width="1" height="93" fill="#000"/>
<rect x="1575" y="746" width="5" height="6" fill="#000"/>
<rect x="1576" y="747" width="3" height="4" fill="#4a48dc"/>
<rect x="1583" y="732" width="1" height="59" fill="#000"/>
<rect x="1581" y="739" width="5" height="28" fill="#000"/>
<rect x="1582" y="740" width="3" height="26" fill="#dd7172"/>
<rect x="1590" y="667" width="1" height="105" fill="#000"/>
<rect x="1588" y="744" width="5" height="23" fill="#000"/>
<rect x="1589" y="745" width="3" height="21" fill="#4a48dc"/>
<rect x="1596" y="681" width="1" height="66" fill="#000"/>
<rect x="1594" y="713" width="5" height="25" fill="#000"/>
<rect x="1595" y="714" width="3" height="23" fill="#4a48dc"/>
<rect x="1602" y="706" width="1" height="75" fill="#000"/>
<rect x="1600" y="722" width="5" height="28" fill="#000"/>
<rect x="1601" y="723" width="3" height="26" fill="#dd7172"/>
<rect x="1608" y="688" width="1" height="105" fill="#000"/>
<rect x="1606" y="751" width="5" height="8" fill="#000"/>
<rect x="1607" y="752" width="3" height="6" fill="#dd7172"/>
<rect x="1615" y="746" width="1" height="76" fill="#000"/>
<rect x="1613" y="751" width="5" height="42" fill="#000"/>
<rect x="1614" y="752" width="3" height="40" fill="#dd7172"/>
<rect x="1621" y="749" width="1" height="77" fill="#000"/>
<rect x="1619" y="788" width="5" height="10" fill="#000"/>
<rect x="1620" y="789" width="3" height="8" fill="#dd7172"/>
<rect x="1627" y="751" width="1" height="91" fill="#000"/>
<rect x="1625" y="797" width="5" height="28" fill="#000"/>
<rect x="1626" y="798" width="3" height="26" fill="#dd7172"/>
<rect x="1634" y="788" width="1" height="76" fill="#000"/>
<rect x="1632" y="819" width="5" height="16" fill="#000"/>
<rect x="1633" y="820" width="3" height="14" fill="#dd7172"/>
<rect x="1640" y="824" width="1" height="60" fill="#000"/>
<rect x="1638" y="834" width="5" height="45" fill="#000"/>
<rect x="1639" y="835" width="3" height="43" fill="#dd7172"/>
<rect x="1646" y="836" width="1" height="41" fill="#000"/>
<rect x="1644" y="836" width="5" height="41" fill="#000"/>
<rect x="1645" y="837" width="3" height="39" fill="#4a48dc"/>
<rect x="1653" y="843" width="1" height="41" fill="#000"/>
<rect x="1651" y="843" width="5" height="42" fill="#000"/>
<rect x="1652" y="844" width="3" height="40" fill="#dd7172"/>
</g>
<line x1="0" y1="604.5" x2="1799" y2="604.5" stroke="#2e8b3a" stroke-width="1" stroke-dasharray="4,3"/>
<line x1="0" y1="-1.0" x2="1803" y2="225.4" stroke="#e02020" stroke-width="1.1"/>
<polyline points="-0.5,282.5 5.5,262.5 11.5,301.5 18.5,320.5 24.5,291.5 30.5,340.5 37.5,320.5 43.5,294.5 49.5,344.5 56.5,361.5 62.5,390.5 68.5,423.5 74.5,400.5 81.5,378.5 87.5,405.5 93.5,335.5 100.5,320.5 106.5,347.5 112.5,315.5 119.5,255.5 125.5,231.5 131.5,265.5 138.5,269.5 144.5,250.5 150.5,107.5 157.5,226.5 163.5,235.5 169.5,298.5 175.5,282.5 182.5,296.5 188.5,272.5 194.5,233.5 201.5,187.5 207.5,129.5 213.5,180.5 220.5,248.5 226.5,260.5 232.5,214.5 239.5,156.5 245.5,153.5 251.5,160.5 264.5,160.5 270.5,165.5 276.5,180.5 283.5,124.5 289.5,110.5 295.5,98.5 302.5,98.5 308.5,122.5 314.5,93.5 321.5,83.5 327.5,98.5 333.5,66.5 340.5,68.5 346.5,49.5 352.5,93.5 359.5,76.5 365.5,66.5 371.5,93.5 377.5,105.5 384.5,90.5 390.5,122.5 396.5,119.5 403.5,112.5 409.5,122.5 415.5,127.5 422.5,155.5 428.5,170.5 434.5,197.5 441.5,205.5 447.5,209.5 453.5,187.5 460.5,205.5 466.5,223.5 472.5,238.5 478.5,214.5 485.5,185.5 491.5,218.5 497.5,180.5 504.5,163.5 510.5,198.5 516.5,197.5 523.5,221.5 529.5,203.5 535.5,255.5 542.5,298.5 548.5,279.5 554.5,262.5 561.5,245.5 567.5,194.5 573.5,177.5 579.5,240.5 586.5,282.5 592.5,296.5 598.5,315.5 605.5,342.5 611.5,376.5 617.5,386.5 624.5,400.5 630.5,438.5 636.5,439.5 643.5,439.5 649.5,456.5 655.5,468.5 662.5,473.5 668.5,478.5 674.5,470.5 680.5,492.5 687.5,463.5 693.5,439.5 699.5,440.5 706.5,439.5 712.5,446.5 718.5,478.5 725.5,474.5 731.5,424.5 737.5,405.5 744.5,407.5 750.5,381.5 756.5,398.5 763.5,439.5 769.5,439.5 775.5,453.5 781.5,475.5 788.5,446.5 794.5,412.5 800.5,466.5 807.5,482.5 813.5,516.5 819.5,577.5 826.5,548.5 832.5,567.5 838.5,558.5 845.5,553.5 851.5,519.5 857.5,528.5 864.5,543.5 870.5,528.5 876.5,490.5 883.5,491.5 889.5,466.5 895.5,463.5 901.5,485.5 908.5,475.5 914.5,516.5 920.5,446.5 927.5,463.5 933.5,495.5 939.5,399.5 946.5,400.5 952.5,427.5 958.5,388.5 965.5,335.5 971.5,328.5 977.5,298.5 984.5,374.5 990.5,361.5 996.5,347.5 1002.5,325.5 1009.5,335.5 1015.5,330.5 1021.5,228.5 1028.5,227.5 1034.5,206.5 1040.5,156.5 1047.5,158.5 1053.5,144.5 1059.5,124.5 1066.5,90.5 1072.5,214.5 1078.5,85.5 1085.5,124.5 1091.5,102.5 1097.5,204.5 1103.5,219.5 1110.5,202.5 1116.5,146.5 1122.5,214.5 1129.5,262.5 1135.5,255.5 1141.5,265.5 1148.5,311.5 1154.5,265.5 1160.5,298.5 1167.5,284.5 1173.5,294.5 1179.5,369.5 1186.5,354.5 1192.5,377.5 1198.5,349.5 1204.5,407.5 1211.5,376.5 1217.5,378.5 1223.5,349.5 1230.5,342.5 1236.5,335.5 1242.5,340.5 1249.5,328.5 1255.5,335.5 1261.5,340.5 1268.5,439.5 1274.5,407.5 1280.5,395.5 1287.5,415.5 1293.5,352.5 1299.5,361.5 1305.5,398.5 1312.5,354.5 1318.5,473.5 1324.5,424.5 1331.5,446.5 1337.5,438.5 1343.5,423.5 1350.5,388.5 1356.5,325.5 1362.5,429.5 1369.5,482.5 1375.5,611.5 1381.5,599.5 1388.5,691.5 1394.5,693.5 1400.5,727.5 1406.5,734.5 1413.5,746.5 1419.5,766.5 1425.5,744.5 1432.5,713.5 1438.5,749.5 1444.5,758.5 1451.5,792.5 1457.5,797.5 1463.5,824.5 1470.5,834.5 1476.5,878.5 1482.5,836.5 1489.5,1210.5" fill="none" stroke="#0a0a0a" stroke-width="1.15"/>
<polyline points="-0.5,375.5 11.5,375.5 18.5,370.5 24.5,347.5 37.5,347.5 43.5,352.5 49.5,353.5 56.5,361.5 62.5,363.5 68.5,367.5 74.5,367.5 81.5,377.5 87.5,400.5 93.5,401.5 100.5,413.5 131.5,413.5 138.5,417.5 157.5,417.5 163.5,394.5 169.5,375.5 258.5,375.5 264.5,358.5 270.5,358.5 276.5,351.5 283.5,345.5 289.5,326.5 308.5,326.5 314.5,272.5 321.5,268.5 396.5,268.5 403.5,262.5 409.5,262.5 415.5,256.5 422.5,233.5 428.5,233.5 434.5,225.5 441.5,215.5 453.5,215.5 460.5,208.5 466.5,206.5 478.5,206.5 485.5,202.5 491.5,202.5 497.5,187.5 504.5,183.5 510.5,164.5 516.5,163.5 523.5,151.5 548.5,151.5 554.5,148.5 561.5,121.5 567.5,114.5 586.5,114.5 592.5,108.5 598.5,114.5 605.5,118.5 611.5,129.5 624.5,129.5 630.5,134.5 636.5,144.5 668.5,144.5 674.5,152.5 680.5,157.5 687.5,158.5 693.5,158.5 699.5,179.5 706.5,201.5 712.5,202.5 718.5,202.5 725.5,209.5 731.5,211.5 737.5,211.5 744.5,217.5 750.5,229.5 756.5,230.5 763.5,243.5 769.5,258.5 775.5,271.5 781.5,282.5 788.5,294.5 794.5,305.5 800.5,314.5 813.5,314.5 819.5,319.5 826.5,324.5 832.5,346.5 838.5,349.5 845.5,355.5 895.5,355.5 901.5,360.5 908.5,375.5 914.5,403.5 920.5,411.5 927.5,415.5 933.5,421.5 939.5,439.5 946.5,451.5 952.5,452.5 977.5,452.5 984.5,477.5 990.5,479.5 1072.5,479.5 1078.5,481.5 1085.5,474.5 1122.5,474.5 1129.5,463.5 1135.5,462.5 1141.5,447.5 1179.5,447.5 1186.5,414.5 1192.5,400.5 1198.5,400.5 1204.5,377.5 1211.5,376.5 1217.5,371.5 1223.5,360.5 1230.5,348.5 1236.5,348.5 1242.5,347.5 1249.5,313.5 1255.5,296.5 1261.5,294.5 1268.5,254.5 1274.5,249.5 1280.5,240.5 1287.5,238.5 1293.5,227.5 1312.5,227.5 1318.5,216.5 1324.5,211.5 1337.5,211.5 1343.5,210.5 1350.5,216.5 1356.5,217.5 1362.5,229.5 1369.5,229.5 1375.5,232.5 1413.5,232.5 1419.5,253.5 1425.5,253.5 1432.5,266.5 1438.5,272.5 1444.5,294.5 1451.5,330.5 1457.5,345.5 1463.5,346.5 1470.5,347.5 1476.5,351.5 1482.5,365.5 1489.5,367.5 1495.5,374.5 1501.5,378.5 1526.5,378.5 1533.5,397.5 1539.5,443.5 1545.5,455.5 1552.5,483.5 1558.5,523.5 1564.5,523.5 1571.5,525.5 1577.5,541.5 1608.5,541.5 1615.5,548.5 1621.5,550.5 1627.5,558.5 1634.5,577.5 1640.5,608.5 1646.5,610.5 1653.5,794.5 1684.5,794.5 1698.0,883.0" fill="none" stroke="#2040cc" stroke-width="1.2"/>
<polyline points="-0.5,386.5 24.5,386.5 30.5,411.5 37.5,414.5 43.5,417.5 49.5,413.5 56.5,423.5 93.5,423.5 100.5,436.5 106.5,440.5 119.5,440.5 125.5,444.5 131.5,434.5 138.5,419.5 150.5,419.5 157.5,402.5 163.5,377.5 169.5,351.5 175.5,345.5 182.5,327.5 188.5,315.5 194.5,315.5 201.5,313.5 207.5,309.5 213.5,302.5 220.5,305.5 226.5,327.5 232.5,359.5 239.5,360.5 245.5,360.5 251.5,364.5 264.5,364.5 270.5,370.5 276.5,359.5 283.5,346.5 289.5,326.5 295.5,320.5 302.5,320.5 308.5,314.5 314.5,237.5 321.5,233.5 327.5,225.5 333.5,207.5 340.5,208.5 346.5,215.5 371.5,215.5 377.5,222.5 396.5,222.5 403.5,206.5 409.5,205.5 415.5,193.5 422.5,193.5 428.5,201.5 434.5,193.5 441.5,193.5 447.5,190.5 453.5,158.5 460.5,141.5 466.5,139.5 478.5,139.5 485.5,130.5 491.5,130.5 497.5,115.5 504.5,91.5 510.5,88.5 523.5,88.5 529.5,80.5 535.5,77.5 542.5,72.5 548.5,82.5 554.5,86.5 561.5,86.5 567.5,95.5 573.5,99.5 579.5,111.5 586.5,111.5 592.5,134.5 598.5,143.5 605.5,147.5 611.5,158.5 617.5,165.5 624.5,168.5 630.5,172.5 636.5,188.5 643.5,200.5 649.5,201.5 655.5,212.5 662.5,212.5 668.5,208.5 687.5,208.5 693.5,202.5 699.5,214.5 706.5,236.5 712.5,237.5 725.5,237.5 731.5,240.5 737.5,246.5 756.5,246.5 763.5,253.5 769.5,267.5 775.5,280.5 781.5,291.5 788.5,303.5 794.5,319.5 807.5,371.5 813.5,380.5 819.5,388.5 826.5,399.5 832.5,439.5 838.5,451.5 845.5,470.5 851.5,479.5 857.5,473.5 883.5,473.5 889.5,462.5 895.5,462.5 901.5,458.5 908.5,453.5 914.5,442.5 939.5,442.5 946.5,437.5 965.5,437.5 971.5,438.5 977.5,453.5 984.5,489.5 990.5,491.5 1009.5,491.5 1015.5,500.5 1021.5,523.5 1028.5,529.5 1034.5,547.5 1040.5,531.5 1047.5,529.5 1053.5,523.5 1059.5,519.5 1066.5,513.5 1072.5,511.5 1078.5,499.5 1085.5,474.5 1122.5,474.5 1129.5,463.5 1135.5,462.5 1141.5,415.5 1148.5,415.5 1154.5,413.5 1160.5,373.5 1167.5,368.5 1173.5,359.5 1179.5,357.5 1186.5,312.5 1192.5,299.5 1198.5,299.5 1204.5,276.5 1211.5,264.5 1217.5,254.5 1223.5,243.5 1230.5,231.5 1236.5,216.5 1242.5,176.5 1249.5,173.5 1255.5,136.5 1261.5,140.5 1268.5,147.5 1274.5,150.5 1287.5,150.5 1293.5,161.5 1299.5,167.5 1305.5,167.5 1312.5,208.5 1331.5,208.5 1337.5,230.5 1343.5,289.5 1350.5,310.5 1356.5,312.5 1362.5,325.5 1369.5,329.5 1375.5,334.5 1381.5,334.5 1388.5,340.5 1394.5,356.5 1400.5,370.5 1406.5,361.5 1413.5,357.5 1419.5,357.5 1425.5,352.5 1432.5,365.5 1438.5,371.5 1463.5,371.5 1470.5,364.5 1476.5,364.5 1482.5,376.5 1489.5,378.5 1520.5,378.5 1526.5,387.5 1533.5,416.5 1539.5,463.5 1545.5,475.5 1552.5,503.5 1558.5,543.5 1564.5,543.5 1571.5,545.5 1577.5,561.5 1583.5,619.5 1590.5,650.5 1596.5,693.5 1602.5,704.5 1608.5,727.5 1615.5,734.5 1621.5,746.5 1627.5,754.5 1634.5,765.5 1640.5,786.5 1646.5,793.5 1653.5,949.5" fill="none" stroke="#e02228" stroke-width="1.2"/>
<line x1="1394.9" y1="806.8" x2="1519.5" y2="650.6" stroke="#000" stroke-width="2.3"/>
<polygon points="1526.1,641.8 1523.9,655.2 1514.1,647.2" fill="#000"/>
</svg>
<div id="brand">lTime.com - Temps Réel</div>
<div id="wm">AUDCHF, 1m</div>
<div id="q">?</div>
<div id="kl" style="left:auto;right:4px;width:auto;letter-spacing:-0.2px;">Kijun+SSB M5 0,62967</div>
</div>
<div id="rp"></div><div id="redge"></div>
<div id="vax"></div>
<i class="pt" style="top:39px"></i><span class="pl" style="top:32px">0,632</span><i class="pt" style="top:160px"></i><span class="pl" style="top:153px">0,6315</span><i class="pt" style="top:282px"></i><span class="pl" style="top:275px">0,631</span><i class="pt" style="top:403px"></i><span class="pl" style="top:396px">0,6305</span><i class="pt" style="top:524px"></i><span class="pl b" style="top:517px">0,63</span><i class="pt" style="top:645px"></i><span class="pl" style="top:638px">0,6295</span><i class="pt" style="top:766px"></i><span class="pl" style="top:759px">0,629</span>
<div id="hl1"></div>
<div id="sb">
<div class="box" style="left:0;width:127px;"><span style="position:absolute;left:-5px;">chastique (14 3 3) 66,140</span></div>
<div class="box" style="left:127px;width:101px;"><i class="sq" style="left:3px"></i><span style="position:absolute;left:17px;">ATR (4) 0,00038</span></div>
<div class="box" style="left:228px;width:105px;"><i class="sq" style="left:3px"></i><span style="position:absolute;left:16px;">Ratio ATR 0,2308</span></div>
<div class="box" style="left:333px;width:19px;"><svg width="18" height="16" viewBox="0 0 18 16" style="position:absolute;left:0;top:0"><rect x="6.5" y="3.5" width="8" height="6" rx="1.5" fill="#fff" stroke="#000" stroke-width="1.6"/><rect x="3.5" y="7.5" width="8" height="6" rx="1.5" fill="#fff" stroke="#000" stroke-width="1.6"/></svg></div>
</div>
<div id="hl2"></div>
<div id="ta"><i class="tk" style="left:11px"></i><i class="tk" style="left:74px"></i><i class="tk" style="left:138px"></i><i class="tk" style="left:201px"></i><i class="tk" style="left:264px"></i><i class="tk" style="left:327px"></i><i class="tk" style="left:390px"></i><i class="tk" style="left:453px"></i><i class="tk" style="left:516px"></i><i class="tk" style="left:579px"></i><i class="tk" style="left:643px"></i><i class="tk" style="left:706px"></i><i class="tk" style="left:769px"></i><i class="tk" style="left:832px"></i><i class="tk" style="left:895px"></i><i class="tk" style="left:958px"></i><i class="tk" style="left:1021px"></i><i class="tk" style="left:1085px"></i><i class="tk" style="left:1148px"></i><i class="tk" style="left:1211px"></i><i class="tk" style="left:1274px"></i><i class="tk" style="left:1337px"></i><i class="tk" style="left:1400px"></i><i class="tk" style="left:1463px"></i><i class="tk" style="left:1526px"></i><i class="tk" style="left:1590px"></i><i class="tk" style="left:1653px"></i><i class="tk" style="left:1716px"></i><i class="tk" style="left:1779px"></i><span class="tl" style="left:-8.5px">11:40</span><span class="tl" style="left:54.5px">11:50</span><span class="tl b" style="left:118.5px">12:00</span><span class="tl" style="left:181.5px">12:10</span><span class="tl" style="left:244.5px">12:20</span><span class="tl" style="left:307.5px">12:30</span><span class="tl" style="left:370.5px">12:40</span><span class="tl" style="left:433.5px">12:50</span><span class="tl b" style="left:496.5px">13:00</span><span class="tl" style="left:559.5px">13:10</span><span class="tl" style="left:623.5px">13:20</span><span class="tl" style="left:686.5px">13:30</span><span class="tl" style="left:749.5px">13:40</span><span class="tl" style="left:812.5px">13:50</span><span class="tl b" style="left:875.5px">14:00</span><span class="tl" style="left:938.5px">14:10</span><span class="tl" style="left:1001.5px">14:20</span><span class="tl" style="left:1065.5px">14:30</span><span class="tl" style="left:1128.5px">14:40</span><span class="tl" style="left:1191.5px">14:50</span><span class="tl b" style="left:1254.5px">15:00</span><span class="tl" style="left:1317.5px">15:10</span><span class="tl" style="left:1380.5px">15:20</span><span class="tl" style="left:1443.5px">15:30</span><span class="tl" style="left:1506.5px">15:40</span><span class="tl" style="left:1570.5px">15:50</span><span class="tl b" style="left:1633.5px">16:00</span><span class="tl" style="left:1696.5px">16:10</span><span class="tl" style="left:1759.5px">16:20</span></div>
<div id="more"><svg width="17" height="17" viewBox="0 0 17 17" style="position:absolute;left:0;top:0"><polyline points="4.5,5.5 7.8,8.8 4.5,12.1" fill="none" stroke="#444" stroke-width="1.1"/><polyline points="8.5,5.5 11.8,8.8 8.5,12.1" fill="none" stroke="#444" stroke-width="1.1"/></svg></div>
<div id="bb"></div>
</body></html>
